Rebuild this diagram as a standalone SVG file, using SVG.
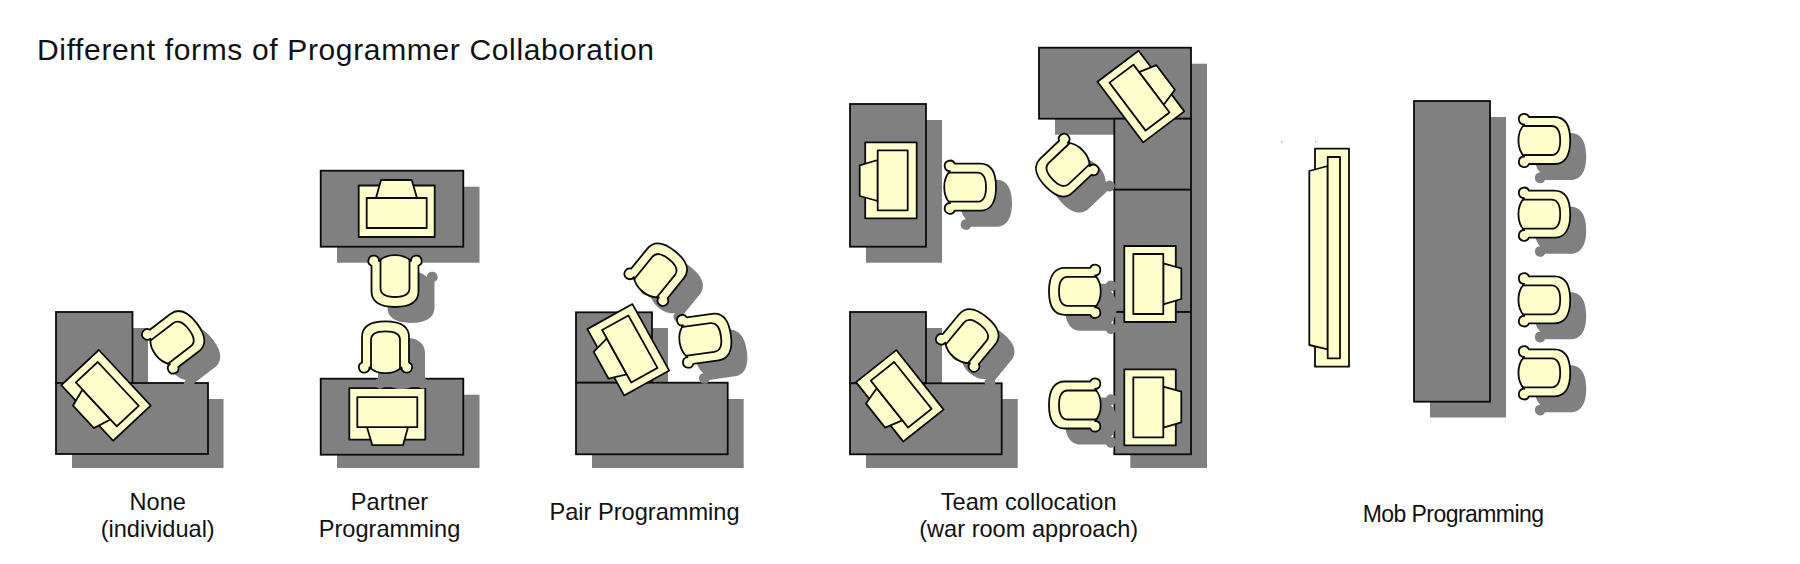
<svg xmlns="http://www.w3.org/2000/svg" width="1800" height="564" viewBox="0 0 1800 564">
<style>
.bg{fill:#fff}
.sh{fill:#808080}
.desk{fill:#808080;stroke:#0a0a0a;stroke-width:1.8}
.y{fill:#ffffcc;stroke:#0a0a0a;stroke-width:1.8;stroke-linejoin:round}
.seat{fill:none;stroke:#0a0a0a;stroke-width:1.8;stroke-linejoin:round}
.lab{font-family:"Liberation Sans",Arial,sans-serif;font-size:23.6px;fill:#111;text-anchor:middle}
.jp{font-family:"Liberation Sans",Arial,sans-serif;fill:#111}
</style>
<defs>
<path id="sil" d="M-23.500 14.500L-23.500 -11C-23.500 -20 -17 -26.700 0 -26.700C17 -26.700 23.500 -20 23.500 -11L23.500 14.500A5.300 5.300 0 1 1 16 19.300C8 27 -8 27 -16 19.300A5.300 5.300 0 1 1 -23.500 14.500Z"/>
<g id="chair"><use href="#sil" class="y"/><path class="seat" d="M-14.500 21.500L-14.500 -8C-14.500 -13.500 -10 -16.700 0 -16.700C10 -16.700 14.500 -13.500 14.500 -8L14.500 21.500"/></g>
<use id="cs" href="#sil" class="sh"/>
<g id="pc"><rect class="y" x="-38" y="-26" width="76" height="51.500"/><path class="y" d="M-15.700 -31.500L15 -31.500L20.300 -13.500L-20.700 -13.500Z"/><rect class="y" x="-30" y="-13.500" width="60" height="30"/></g>
</defs>
<rect class="bg" width="1800" height="564"/>
<text id="title" class="jp" x="37" y="60" font-size="30" textLength="617" lengthAdjust="spacing">Different forms of Programmer Collaboration</text>

<g id="none-individual">
<rect class="sh" x="72" y="328" width="76" height="71"/><rect class="sh" x="72" y="399" width="151.500" height="69"/>
<rect class="desk" x="56" y="312" width="76.500" height="71"/><rect class="desk" x="56" y="383" width="152" height="71"/>
<use href="#pc" transform="translate(106.200 395.200) rotate(227)"/>
<use href="#cs" transform="translate(191.600 355.600) rotate(52.600)"/>
<use href="#chair" transform="translate(175.600 339.600) rotate(52.600)"/>
<text class="lab" x="157.700" y="510">None</text><text class="lab" x="157.700" y="536.700">(individual)</text>
</g>

<g id="partner-programming">
<rect class="sh" x="337" y="186.700" width="142.500" height="76"/><rect class="sh" x="337" y="394.700" width="142.500" height="73.300"/>
<rect class="desk" x="320.700" y="170.700" width="142.600" height="76"/><rect class="desk" x="320.700" y="378.700" width="142.600" height="76"/>
<use href="#pc" transform="translate(396.700 211.500)"/>
<use href="#pc" transform="translate(387.300 413.700) rotate(180)"/>
<use href="#cs" transform="translate(411 296.300) rotate(180)"/>
<use href="#chair" transform="translate(395 280.300) rotate(180)"/>
<use href="#cs" transform="translate(401.500 364)"/>
<use href="#chair" transform="translate(385.500 348)"/>
<text class="lab" x="389.500" y="510">Partner</text><text class="lab" x="389.500" y="536.700">Programming</text>
</g>

<g id="pair-programming">
<rect class="sh" x="592" y="328" width="76" height="71"/><rect class="sh" x="592" y="399" width="151.700" height="69"/>
<rect class="desk" x="576" y="312.300" width="76" height="70.400"/><rect class="desk" x="576" y="382.700" width="151.700" height="71.600"/>
<use href="#pc" transform="translate(628.500 349.700) rotate(241)"/>
<use href="#cs" transform="translate(674.500 288.200) rotate(39)"/>
<use href="#cs" transform="translate(720.400 354.600) rotate(82)"/>
<use href="#chair" transform="translate(658.500 272.200) rotate(39)"/>
<use href="#chair" transform="translate(704.400 338.600) rotate(82)"/>
<text class="lab" x="644.500" y="520">Pair Programming</text>
</g>

<g id="team-collocation">
<rect class="sh" x="866" y="120" width="76" height="142.700"/>
<rect class="sh" x="866" y="328" width="76" height="71"/><rect class="sh" x="866" y="399" width="151.700" height="69"/>
<rect class="sh" x="1055" y="63.700" width="152" height="71"/><rect class="sh" x="1130.300" y="134" width="76.700" height="334"/>
<rect class="desk" x="850" y="104" width="76" height="142.700"/>
<rect class="desk" x="850" y="312" width="76" height="71.300"/><rect class="desk" x="850" y="383.300" width="151.700" height="71"/>
<rect class="desk" x="1039" y="47.700" width="152" height="71"/>
<rect class="desk" x="1114.300" y="118.700" width="76.700" height="71"/>
<rect class="desk" x="1114.300" y="189.700" width="76.700" height="122.300"/>
<rect class="desk" x="1114.300" y="312" width="76.700" height="142.300"/>
<use href="#pc" transform="translate(891.200 180.300) rotate(270)"/>
<use href="#pc" transform="translate(900 395.700) rotate(231.500)"/>
<use href="#pc" transform="translate(1140.700 96.700) rotate(53)"/>
<use href="#pc" transform="translate(1149.800 284) rotate(90)"/>
<use href="#pc" transform="translate(1149.800 407.300) rotate(90)"/>
<use href="#cs" transform="translate(985.300 203.200) rotate(90)"/>
<use href="#cs" transform="translate(986 354) rotate(39.700)"/>
<use href="#cs" transform="translate(1080.700 183.800) rotate(226.600)"/>
<use href="#cs" transform="translate(1091.700 307.300) rotate(270)"/>
<use href="#cs" transform="translate(1091.700 421) rotate(270)"/>
<use href="#chair" transform="translate(969.300 187.200) rotate(90)"/>
<use href="#chair" transform="translate(970 338) rotate(39.700)"/>
<use href="#chair" transform="translate(1064.700 167.800) rotate(226.600)"/>
<use href="#chair" transform="translate(1075.700 291.300) rotate(270)"/>
<use href="#chair" transform="translate(1075.700 405) rotate(270)"/>
<text class="lab" x="1028.700" y="510">Team collocation</text><text class="lab" x="1028.700" y="536.700">(war room approach)</text>
</g>

<g id="mob-programming">
<rect x="1281.300" y="141.300" width="1" height="1" fill="#555"/><rect x="1315" y="141.300" width="1" height="1" fill="#888"/>
<rect class="y" x="1315" y="148.700" width="34" height="218"/>
<path class="y" d="M1309.300 171L1327.700 166L1327.700 349.300L1309.300 345Z"/>
<rect class="y" x="1327.700" y="157" width="12.300" height="201.300"/>
<rect class="sh" x="1430" y="117" width="76" height="300.500"/>
<rect class="desk" x="1414" y="101" width="76" height="300.700"/>
<use href="#cs" transform="translate(1559.500 156.500) rotate(90)"/>
<use href="#cs" transform="translate(1559.500 230.200) rotate(90)"/>
<use href="#cs" transform="translate(1559.500 315.800) rotate(90)"/>
<use href="#cs" transform="translate(1559.500 388.800) rotate(90)"/>
<use href="#chair" transform="translate(1543.500 140.500) rotate(90)"/>
<use href="#chair" transform="translate(1543.500 214.200) rotate(90)"/>
<use href="#chair" transform="translate(1543.500 299.800) rotate(90)"/>
<use href="#chair" transform="translate(1543.500 372.800) rotate(90)"/>
<text class="jp" x="1362.700" y="521.700" font-size="23" textLength="181.300" lengthAdjust="spacing">Mob Programming</text>
</g>
</svg>
